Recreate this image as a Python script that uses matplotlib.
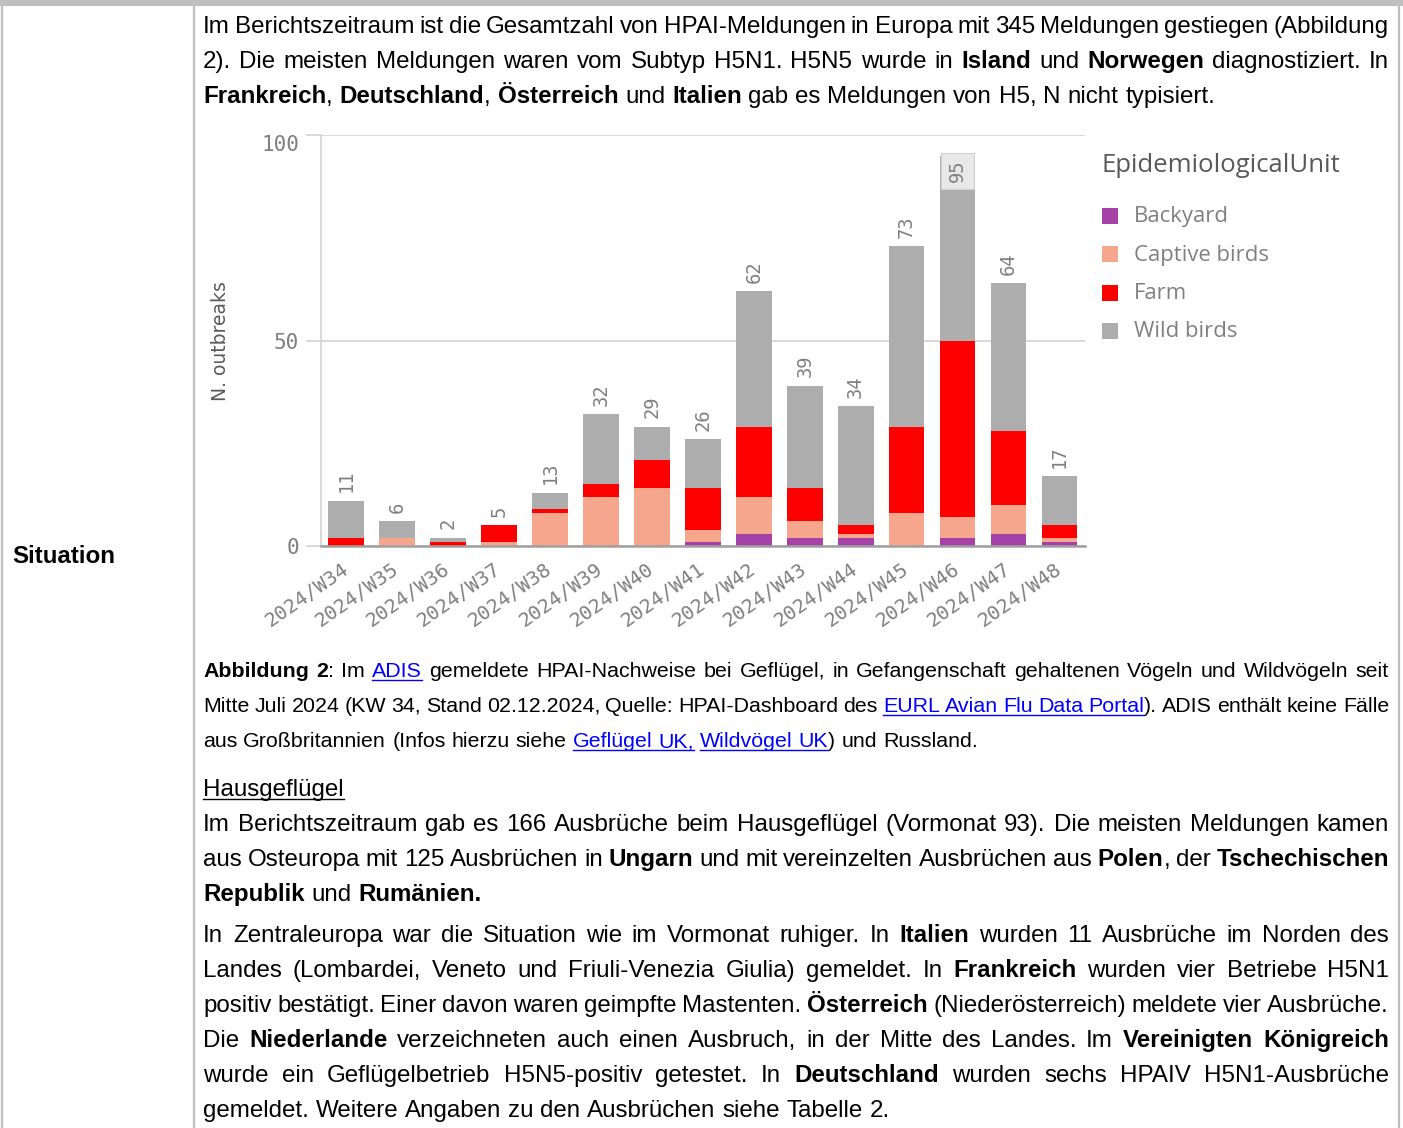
import re
import matplotlib
matplotlib.use('Agg')
import matplotlib.pyplot as plt
from matplotlib.patches import Rectangle
from matplotlib.lines import Line2D
from matplotlib.font_manager import FontProperties
import numpy as np

W, H = 1403, 1128

# ---------------- data ----------------
weeks = ['2024/W34', '2024/W35', '2024/W36', '2024/W37', '2024/W38', '2024/W39',
         '2024/W40', '2024/W41', '2024/W42', '2024/W43', '2024/W44', '2024/W45',
         '2024/W46', '2024/W47', '2024/W48']
backyard = [0, 0, 0, 0, 0, 0, 0, 1, 3, 2, 2, 0, 2, 3, 1]
captive = [0, 2, 0, 1, 8, 12, 14, 3, 9, 4, 1, 8, 5, 7, 1]
farm = [2, 0, 1, 4, 1, 3, 7, 10, 17, 8, 2, 21, 43, 18, 3]
wild = [9, 4, 1, 0, 4, 17, 8, 12, 33, 25, 29, 44, 45, 36, 12]
series_names = ['Backyard', 'Captive birds', 'Farm', 'Wild birds']
series_colors = ['#a542a8', '#f5a68d', '#ff0000', '#adadad']
yticks = [0, 50, 100]
legend_title = 'EpidemiologicalUnit'
ylabel = 'N. outbreaks'

para1 = [
    "Im Berichtszeitraum ist die Gesamtzahl von HPAI-Meldungen in Europa mit 345 Meldungen gestiegen (Abbildung",
    "2). Die meisten Meldungen waren vom Subtyp H5N1. H5N5 wurde in **Island** und **Norwegen** diagnostiziert. In",
    "**Frankreich**, **Deutschland**, **Österreich** und **Italien** gab es Meldungen von H5, N nicht typisiert.",
]
caption = [
    "**Abbildung 2**: Im [[ADIS]] gemeldete HPAI-Nachweise bei Geflügel, in Gefangenschaft gehaltenen Vögeln und Wildvögeln seit",
    "Mitte Juli 2024 (KW 34, Stand 02.12.2024, Quelle: HPAI-Dashboard des [[EURL Avian Flu Data Portal]]). ADIS enthält keine Fälle",
    "aus Großbritannien (Infos hierzu siehe [[Geflügel UK,]] [[Wildvögel UK]]) und Russland.",
]
para2 = [
    "__Hausgeflügel__",
    "Im Berichtszeitraum gab es 166 Ausbrüche beim Hausgeflügel (Vormonat 93). Die meisten Meldungen kamen",
    "aus Osteuropa mit 125 Ausbrüchen in **Ungarn** und mit vereinzelten Ausbrüchen aus **Polen**, der **Tschechischen**",
    "**Republik** und **Rumänien.**",
]
para3 = [
    "In Zentraleuropa war die Situation wie im Vormonat ruhiger. In **Italien** wurden 11 Ausbrüche im Norden des",
    "Landes (Lombardei, Veneto und Friuli-Venezia Giulia) gemeldet. In **Frankreich** wurden vier Betriebe H5N1",
    "positiv bestätigt. Einer davon waren geimpfte Mastenten. **Österreich** (Niederösterreich) meldete vier Ausbrüche.",
    "Die **Niederlande** verzeichneten auch einen Ausbruch, in der Mitte des Landes. Im **Vereinigten Königreich**",
    "wurde ein Geflügelbetrieb H5N5-positiv getestet. In **Deutschland** wurden sechs HPAIV H5N1-Ausbrüche",
    "gemeldet. Weitere Angaben zu den Ausbrüchen siehe Tabelle 2.",
]

# ---------------- figure ----------------
fig = plt.figure(figsize=(W / 100, H / 100), dpi=100)
fig.patch.set_facecolor('white')
renderer = fig.canvas.get_renderer()

BORDER = '#bfbfbf'
LINK = '#0000ff'
SANS = 'Liberation Sans'
MONO = 'DejaVu Sans Mono'

# table borders
fig.add_artist(Rectangle((0, 1 - 6 / H), 1, 6 / H, transform=fig.transFigure,
                         facecolor=BORDER, edgecolor='none'))
for xv in (1.5, 194, 1399):
    fig.add_artist(Line2D([xv / W, xv / W], [0, 1 - 6 / H], transform=fig.transFigure,
                          color=BORDER, lw=1.6))

# ---------------- rich text helpers ----------------
TOKEN = re.compile(r'\*\*(.+?)\*\*|\[\[(.+?)\]\]|__(.+?)__')


def parse(s):
    segs, pos = [], 0
    for m in TOKEN.finditer(s):
        if m.start() > pos:
            segs.append((s[pos:m.start()], 'n'))
        if m.group(1) is not None:
            segs.append((m.group(1), 'b'))
        elif m.group(2) is not None:
            segs.append((m.group(2), 'l'))
        else:
            segs.append((m.group(3), 'u'))
        pos = m.end()
    if pos < len(s):
        segs.append((s[pos:], 'n'))
    return segs


def fp(style, size, family=SANS):
    return FontProperties(family=family, size=size,
                          weight='bold' if style == 'b' else 'normal')


def twidth(s, prop):
    w, h, d = renderer.get_text_width_height_descent(s, prop, ismath=False)
    return w


def words_of(line):
    segs = parse(line)
    words = [[]]
    for sid, (txt, st) in enumerate(segs):
        parts = txt.split(' ')
        for k, p in enumerate(parts):
            if k > 0:
                words.append([])
            if p:
                words[-1].append((p, st, sid))
    return segs, [w for w in words if w]


def space_w(size):
    return twidth('a a', fp('n', size)) - twidth('aa', fp('n', size))


def natural_width(line, size):
    segs, words = words_of(line)
    tot = sum(twidth(p, fp(st, size)) for w in words for p, st, _ in w)
    return tot + space_w(size) * (len(words) - 1)


def draw_line(line, y, size, justify, x0=203, x1=1389):
    segs, words = words_of(line)
    wid = [[twidth(p, fp(st, size)) for p, st, _ in w] for w in words]
    total = sum(sum(w) for w in wid)
    sp = space_w(size)
    gap = (x1 - x0 - total) / (len(words) - 1) if (justify and len(words) > 1) else sp
    x = x0
    ext = {}
    for w, ws in zip(words, wid):
        for (p, st, sid), pw in zip(w, ws):
            fig.text(x / W, 1 - y / H, p, fontproperties=fp(st, size),
                     color=LINK if st == 'l' else 'black', ha='left', va='baseline')
            if st in 'lu':
                a, b = ext.get(sid, (x, x + pw))
                ext[sid] = (min(a, x), max(b, x + pw))
            x += pw
        x += gap
    for sid, (a, b) in ext.items():
        col = LINK if segs[sid][1] == 'l' else 'black'
        yy = 1 - (y + 2.5) / H
        fig.add_artist(Line2D([a / W, b / W], [yy, yy], transform=fig.transFigure,
                              color=col, lw=1.0))


# calibrate font sizes to the page
body_size = 15 * 1016 / natural_width(para1[2], 15)
cap_size = 14 * 782 / natural_width(caption[2], 14)


def draw_par(lines, y0, size, step=35):
    for i, ln in enumerate(lines):
        draw_line(ln, y0 + i * step, size, justify=(i < len(lines) - 1))


draw_par(para1, 33, body_size)
draw_par(caption, 677, cap_size)
draw_line(para2[0], 796, body_size, justify=False)
draw_par(para2[1:], 831, body_size)
draw_par(para3, 942, body_size)

fig.text(12 / W, 1 - 563 / H, 'Situation', fontproperties=fp('b', body_size),
         color='black', ha='left', va='baseline')

# ---------------- chart ----------------
ax = fig.add_axes([320.7 / W, 1 - 546 / H, (1085 - 320.7) / W, (546 - 135) / H])
x = np.arange(len(weeks))
bottom = np.zeros(len(weeks))
for vals, col in zip([backyard, captive, farm, wild], series_colors):
    v = np.array(vals, dtype=float)
    ax.bar(x, v, 0.7, bottom=bottom, color=col, linewidth=0, zorder=2)
    bottom += v
totals = bottom

ax.set_xlim(-0.5, len(weeks) - 0.5)
ax.set_ylim(0, 100)
GRID = '#d6d6d6'
ax.set_yticks(yticks)
ax.set_yticklabels([str(t) for t in yticks])
ax.yaxis.grid(True, color=GRID, lw=1.3, zorder=0)
ax.set_axisbelow(True)
for s in ('top', 'right'):
    ax.spines[s].set_visible(False)
ax.spines['left'].set_color(GRID)
ax.spines['left'].set_linewidth(1.3)
ax.spines['bottom'].set_color('#a0a0a0')
ax.spines['bottom'].set_linewidth(1.8)
ax.spines['bottom'].set_zorder(3)
ax.tick_params(axis='y', length=10.5, width=1.3, color=GRID, pad=5,
               labelsize=15, labelcolor='#808080')
for lab in ax.get_yticklabels():
    lab.set_fontfamily(MONO)
ax.yaxis.get_major_ticks()[2].label1.set_verticalalignment('top')

ax.set_xticks(x)
ax.set_xticklabels(weeks, rotation=35, ha='right', va='center',
                   rotation_mode='anchor', fontfamily=MONO, fontsize=14.5, color='#808080')
ax.tick_params(axis='x', length=0, pad=15)

for xi, t in zip(x, totals):
    if t > 90:
        ax.annotate(str(int(t)), (xi, t), xytext=(0, -3), textcoords='offset points',
                    rotation=90, ha='center', va='top', fontfamily=MONO, fontsize=13.5,
                    color='#808080',
                    bbox=dict(boxstyle='square,pad=0.38', facecolor='#e8e8e8',
                              edgecolor='#d0d0d0', lw=0.8), zorder=4)
    else:
        ax.annotate(str(int(t)), (xi, t), xytext=(0, 6), textcoords='offset points',
                    rotation=90, ha='center', va='bottom', fontfamily=MONO, fontsize=13.5,
                    color='#808080', zorder=4)

fig.text(221 / W, 1 - 341 / H, ylabel, rotation=90, ha='center', va='center',
         fontfamily='DejaVu Sans', fontsize=13.5, color='#595959')

# ---------------- legend ----------------
LEG = 'Open Sans'
title_size = 16 * 239 / twidth(legend_title, fp('n', 16, LEG))
entry_size = 14 * 135 / twidth('Captive birds', fp('n', 14, LEG))
fig.text(1102 / W, 1 - 166 / H, legend_title, fontproperties=fp('n', title_size, LEG),
         color='#595959', ha='left', va='center')
for i, (name, col) in enumerate(zip(series_names, series_colors)):
    yc = 216 + i * 38.3
    fig.add_artist(Rectangle((1102 / W, 1 - (yc + 8) / H), 16 / W, 16 / H,
                             transform=fig.transFigure, facecolor=col, edgecolor='none'))
    fig.text(1134 / W, 1 - (yc + 1) / H, name, fontproperties=fp('n', entry_size, LEG),
             color='#808080', ha='left', va='center')

fig.savefig('out.png', dpi=100)
